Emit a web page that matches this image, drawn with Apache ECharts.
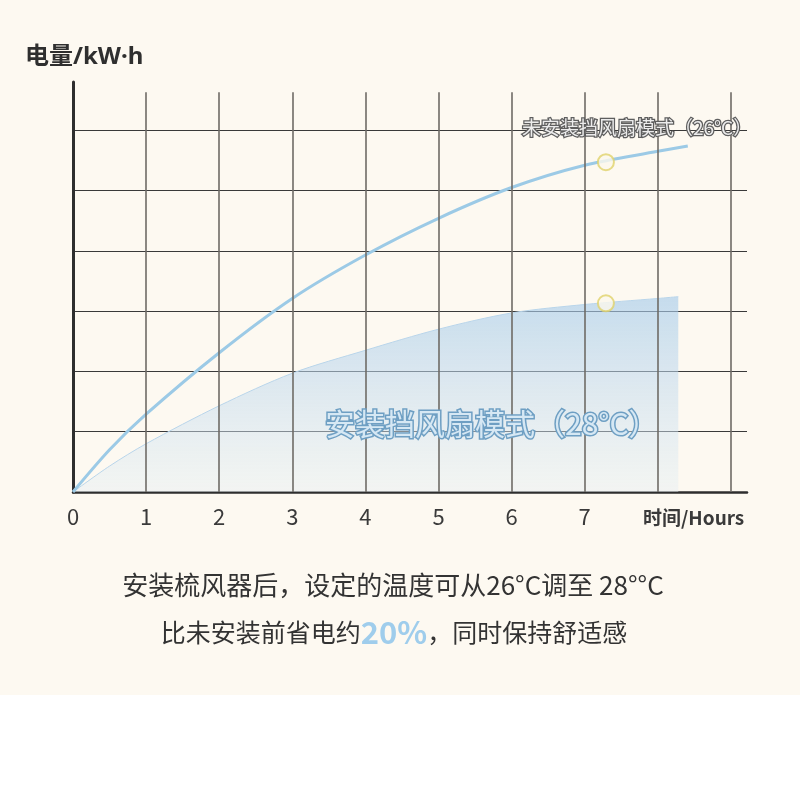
<!DOCTYPE html>
<meta charset="utf-8">
<style>
body { margin: 0; background: #fff; }
#main {
    width: 800px;
    height: 800px;
    background: linear-gradient(#fdf9f1 0, #fdf9f1 695px, #fff 695px);
}
</style>
<div id="main"></div>
<script src="https://cdn.jsdelivr.net/npm/echarts@6/dist/echarts.min.js"></script>
<script>
// 未安装 (26°C)
var hoursBefore = [0, 0.5, 1, 2, 3, 4, 5, 6, 7, 8, 8.41];
var kwhBefore   = [0, 0.70, 1.29, 2.31, 3.21, 3.93, 4.54, 5.05, 5.42, 5.65, 5.74];
// 安装后 (28°C)
var hoursAfter = [0, 0.5, 1, 2, 3, 4, 5, 6, 7, 8, 8.28];
var kwhAfter   = [0, 0.43, 0.80, 1.43, 1.97, 2.35, 2.70, 2.97, 3.11, 3.21, 3.24];
// highlighted points
var markHours = [7.29, 7.29];
var markKwh   = [5.47, 3.13];
var xTickLabels = ['0', '1', '2', '3', '4', '5', '6', '7'];
var vGridHours = [1, 2, 3, 4, 5, 6, 7, 8, 9];

var font = '"Noto Sans CJK SC", "Noto Sans", sans-serif';
var latinFirst = '"Noto Sans", "Noto Sans CJK SC", sans-serif';

function zip(xs, ys) {
    return xs.map(function (x, i) { return [x, ys[i]]; });
}

var chart = echarts.init(document.getElementById('main'));

var option = {
    backgroundColor: 'transparent',
    animation: false,
    grid: { left: 73, right: 53, top: 82, bottom: 308 },
    xAxis: {
        type: 'value',
        min: 0,
        max: 9.22,
        interval: 1,
        axisLine: { show: true, lineStyle: { color: '#2e2e2e', width: 2.5 } },
        axisTick: { show: false },
        splitLine: { show: false },
        axisLabel: {
            color: '#3a3a3a',
            fontSize: 22,
            fontFamily: font,
            margin: 14,
            showMaxLabel: false,
            formatter: function (v) {
                return xTickLabels[v] !== undefined ? xTickLabels[v] : '';
            }
        }
    },
    yAxis: {
        type: 'value',
        min: 0,
        max: 6.8,
        interval: 1,
        axisLine: { show: true, lineStyle: { color: '#2e2e2e', width: 3 } },
        axisTick: { show: false },
        axisLabel: { show: false },
        splitLine: {
            show: true,
            showMinLine: false,
            showMaxLine: false,
            lineStyle: { color: '#3a3a3a', width: 1.2 }
        }
    },
    series: [
        {
            type: 'line',
            data: zip(hoursAfter, kwhAfter),
            smooth: 0.3,
            symbol: 'none',
            lineStyle: { color: '#b9d5ea', width: 1 },
            areaStyle: {
                color: new echarts.graphic.LinearGradient(0, 0, 0, 1, [
                    { offset: 0, color: 'rgba(165,202,234,0.9)' },
                    { offset: 1, color: 'rgba(228,238,244,0.6)' }
                ])
            },
            z: 1,
            markLine: {
                silent: true,
                symbol: 'none',
                label: { show: false },
                lineStyle: { color: '#6f6b66', width: 1.6, type: 'solid' },
                data: vGridHours.map(function (h) {
                    return [{ coord: [h, 0] }, { coord: [h, 6.63] }];
                })
            }
        },
        {
            type: 'line',
            data: zip(hoursBefore, kwhBefore),
            smooth: 0.3,
            symbol: 'none',
            lineStyle: { color: '#9ccae6', width: 3 },
            z: 3
        },
        {
            type: 'scatter',
            data: zip(markHours, markKwh),
            symbol: 'circle',
            symbolSize: 16,
            itemStyle: { color: '#fbf8ec', borderColor: '#e0d26a', borderWidth: 2 },
            z: 4
        }
    ],
    graphic: [
        {
            type: 'text', x: 25, y: 57,
            style: { text: '电量/kW·h', font: 'bold 24px ' + latinFirst, fill: '#2f2f2f', verticalAlign: 'middle' }
        },
        {
            type: 'text', x: 643, y: 518,
            style: { text: '时间/Hours', font: 'bold 19px ' + font, fill: '#3a3a3a', verticalAlign: 'middle' }
        },
        {
            type: 'text', x: 522, y: 128, z: 10,
            style: {
                text: '未安装挡风扇模式（26°C）', font: '19px ' + font, verticalAlign: 'middle',
                fill: '#ececec', stroke: '#5e5e5e', lineWidth: 2.5, strokeFirst: true
            }
        },
        {
            type: 'text', x: 325, y: 424, z: 10,
            style: {
                text: '安装挡风扇模式（28°C）', font: '30px ' + font, verticalAlign: 'middle',
                fill: '#d6e8f4', stroke: '#6e9fc3', lineWidth: 3, strokeFirst: true
            }
        },
        {
            type: 'text', x: 393, y: 585,
            style: {
                text: '安装梳风器后，设定的温度可从26°C调至 28°°C',
                font: '26px ' + font, fill: '#333', align: 'center', verticalAlign: 'middle'
            }
        },
        {
            type: 'text', x: 394, y: 632,
            style: {
                text: '比未安装前省电约{b|20%}，同时保持舒适感',
                font: '25px ' + font, fill: '#333', align: 'center', verticalAlign: 'middle',
                rich: {
                    b: { fontSize: 31, fontWeight: 'bold', fill: '#9fcdec', fontFamily: font }
                }
            }
        }
    ]
};

chart.setOption(option);
</script>
